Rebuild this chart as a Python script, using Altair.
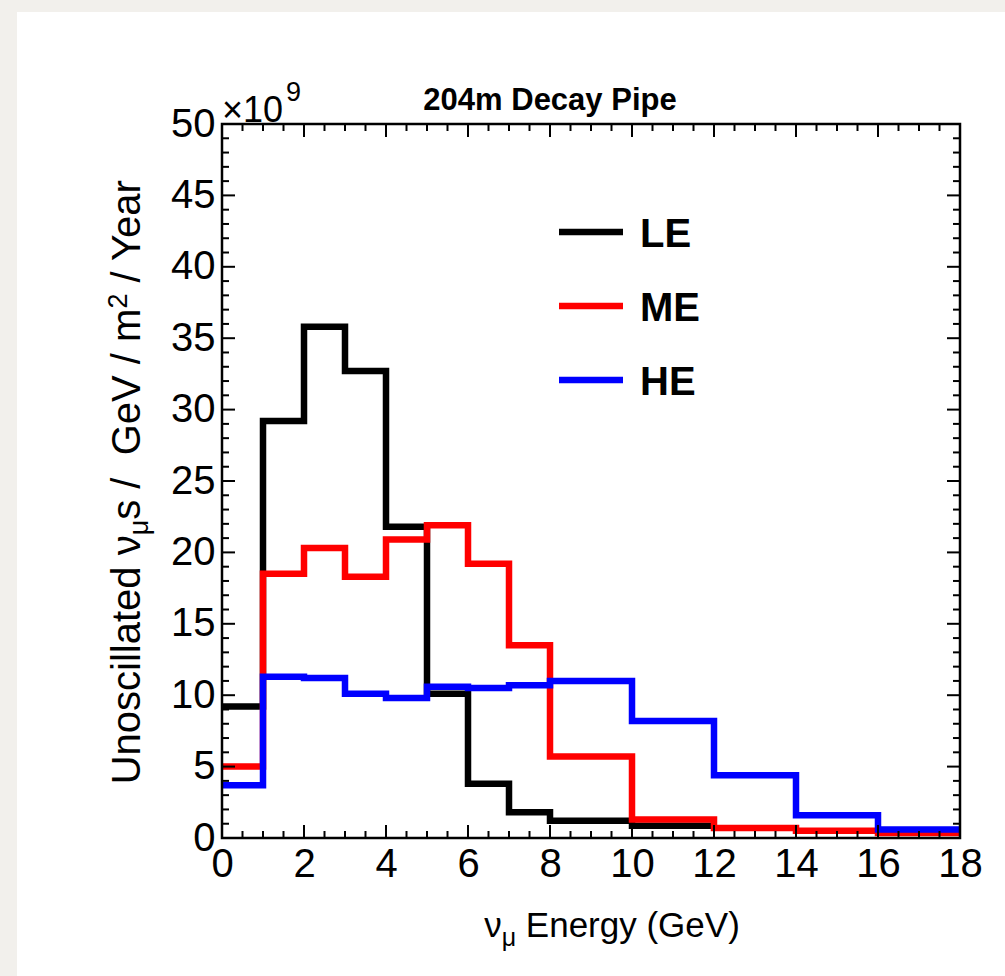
import altair as alt
import pandas as pd

# Bin edges (GeV) and per-GeV muon-neutrino flux (x 10^9 / GeV / m^2 / year)
edges = [0, 1, 2, 3, 4, 5, 6, 7, 8, 10, 12, 14, 16, 18]
le_flux = [9.2, 29.2, 35.8, 32.7, 21.8, 10.1, 3.8, 1.8, 1.2, 0.85]
me_flux = [5.0, 18.5, 20.3, 18.3, 20.9, 21.9, 19.2, 13.5, 5.7, 1.3, 0.7, 0.5, 0.35]
he_flux = [3.7, 11.3, 11.2, 10.1, 9.8, 10.6, 10.5, 10.7, 11.0, 8.2, 4.4, 1.6, 0.6]

series_names = ["LE", "ME", "HE"]
series_colors = ["#000000", "#ff0000", "#0000ff"]

x_major = list(range(0, 19, 2))
x_minor = [k * 0.5 for k in range(0, 37) if k % 4]
y_major = list(range(0, 51, 5))
y_minor = [k for k in range(0, 51) if k % 5]

FONT = "Liberation Sans"
NB = "\u00a0"  # non-collapsing space
W, H = 738, 714
PAD_L, PAD_T = 222, 124
CANVAS_W, CANVAS_H = 1005, 976

# Arial / Liberation Sans advance widths (1/1000 em) for laying out titles
ADV = {" ": 278, NB: 278, "/": 278, "(": 333, ")": 333, "U": 722, "n": 556, "o": 556,
       "s": 500, "c": 500, "i": 222, "l": 222, "a": 556, "t": 278, "e": 556,
       "d": 556, "G": 778, "V": 667, "m": 833, "Y": 667, "r": 333, "E": 667,
       "g": 556, "y": 500, "2": 556, "ν": 500, "μ": 576}


def text_width(s, size):
    return sum(ADV.get(ch, 556) for ch in s) / 1000 * size


xscale = alt.Scale(domain=[0, 18], nice=False, zero=False)
yscale = alt.Scale(domain=[0, 50], nice=False, zero=False)

x_axis = alt.Axis(values=x_major, title=None, domain=False, ticks=False, grid=False,
                  labelFont=FONT, labelFontSize=40, labelColor="black", zindex=2,
                  labelPadding=6, labelFlush=False, labelOverlap=False, format="d")
y_axis = alt.Axis(values=y_major, title=None, domain=False, ticks=False, grid=False,
                  labelFont=FONT, labelFontSize=40, labelColor="black", zindex=2,
                  labelPadding=7, labelFlush=False, labelOverlap=False, format="d")

one = alt.Data(values=[{}])


def step_frame(values):
    xs = edges[:len(values)] + [edges[len(values)]]
    ys = list(values) + [values[-1]]
    return pd.DataFrame({"E": xs, "flux": ys})


layers = []

# white page panel behind the plot
layers.append(
    alt.Chart(one).mark_rect(color="white").encode(
        x=alt.value(17 - PAD_L), x2=alt.value(CANVAS_W - PAD_L),
        y=alt.value(12 - PAD_T), y2=alt.value(CANVAS_H - PAD_T))
)

# step histograms
for name, vals, col in zip(series_names, [le_flux, me_flux, he_flux], series_colors):
    layers.append(
        alt.Chart(step_frame(vals)).mark_line(
            interpolate="step-after", color=col, strokeWidth=6.5,
            strokeJoin="miter", strokeCap="butt"
        ).encode(
            x=alt.X("E:Q", scale=xscale, axis=x_axis),
            y=alt.Y("flux:Q", scale=yscale, axis=y_axis),
        )
    )


def x_ticks(vals, length, top):
    y0, y1 = (0, length) if top else (H, H - length)
    return alt.Chart(pd.DataFrame({"t": vals})).mark_rule(color="black", strokeWidth=2).encode(
        x=alt.X("t:Q", scale=xscale, axis=x_axis), y=alt.value(y0), y2=alt.value(y1))


def y_ticks(vals, length, right):
    x0, x1 = (W, W - length) if right else (0, length)
    return alt.Chart(pd.DataFrame({"t": vals})).mark_rule(color="black", strokeWidth=2).encode(
        y=alt.Y("t:Q", scale=yscale, axis=y_axis), x=alt.value(x0), x2=alt.value(x1))


for top in (False, True):
    layers.append(x_ticks(x_major, 13, top))
    layers.append(x_ticks(x_minor, 7, top))
for right in (False, True):
    layers.append(y_ticks(y_major, 13, right))
    layers.append(y_ticks(y_minor, 7, right))

# plot frame
layers.append(
    alt.Chart(one).mark_rect(fill="transparent", stroke="black", strokeWidth=2.5).encode(
        x=alt.value(0), x2=alt.value(W), y=alt.value(0), y2=alt.value(H))
)


def label(text, x, y, size, bold=False, angle=0, align="left"):
    return alt.Chart(one).mark_text(
        text=text, font=FONT, fontSize=size, fontWeight="bold" if bold else "normal",
        color="black", align=align, baseline="alphabetic", angle=angle
    ).encode(x=alt.value(x), y=alt.value(y))


# title and exponent
layers.append(label("204m Decay Pipe", 550 - PAD_L, 110 - PAD_T, 31, bold=True, align="center"))
layers.append(label("×10", 222 - PAD_L, 122 - PAD_T, 36))
layers.append(label("9", 222 - PAD_L + text_width("×10", 36) + 4, 101 - PAD_T, 27))

# x-axis title with subscript: (text, font size, baseline shift, leading gap in spaces)
MAIN, SMALL = 35, 25
x_parts = [("ν", MAIN, 0, 0), ("μ", SMALL, 9, 0), ("Energy (GeV)", MAIN, 0, 1)]
total = sum(text_width(t, s) + g * text_width(" ", s) for t, s, _, g in x_parts)
cx = 612 - total / 2
for t, s, dy, g in x_parts:
    cx += g * text_width(" ", s)
    layers.append(label(t, cx - PAD_L, 937 - PAD_T + dy, s))
    cx += text_width(t, s)

# y-axis title (rotated) with subscript and superscript
YMAIN, YSMALL = 40, 27
base_x = 140
y_parts = [("Unoscillated ν", YMAIN, 0, 0), ("μ", YSMALL, 8, 0),
           ("s /" + NB + NB + "GeV / m", YMAIN, 0, 0),
           ("2", YSMALL, -13, 0), ("/ Year", YMAIN, 0, 1)]
total = sum(text_width(t, s) + g * text_width(" ", s) for t, s, _, g in y_parts)
cy = 480 + total / 2
for t, s, dx, g in y_parts:
    cy -= g * text_width(" ", s)
    layers.append(label(t, base_x + dx - PAD_L, cy - PAD_T, s, angle=270))
    cy -= text_width(t, s)

# legend
for i, (name, col) in enumerate(zip(series_names, series_colors)):
    ly = 232 + 74 * i - PAD_T
    layers.append(
        alt.Chart(one).mark_rule(color=col, strokeWidth=6.5).encode(
            x=alt.value(559 - PAD_L), x2=alt.value(623 - PAD_L), y=alt.value(ly))
    )
    layers.append(label(name, 640 - PAD_L, ly + 15, 40, bold=True))

chart = alt.layer(*layers).properties(
    width=W, height=H,
    padding={"left": PAD_L, "top": PAD_T, "right": CANVAS_W - PAD_L - W, "bottom": CANVAS_H - PAD_T - H},
    autosize=alt.AutoSizeParams(type="none"),
    background="#f2f0ec",
).configure_view(strokeWidth=0)

chart.save("out.html", embed_options={"renderer": "svg", "actions": False})
